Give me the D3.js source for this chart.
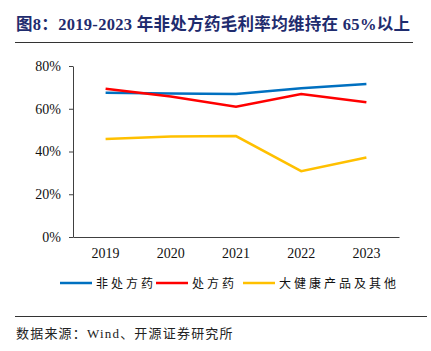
<!DOCTYPE html>
<html>
<head>
<meta charset="utf-8">
<script src="https://cdn.jsdelivr.net/npm/d3@7"></script>
<style>
  body { margin: 0; background: #fff; }
  svg { display: block; }
</style>
</head>
<body>
<div id="chart"></div>
<script>
const years = ['2019', '2020', '2021', '2022', '2023']
const otc = [67.5, 67.1, 66.9, 69.6, 71.6]
const rx = [69.4, 65.7, 61.0, 66.9, 63.0]
const health = [45.9, 47.0, 47.2, 30.8, 37.2]
const seriesNames = ['非处方药', '处方药', '大健康产品及其他']
const colors = ['#0070C0', '#FF0000', '#FFC000']
const yTicks = [0, 20, 40, 60, 80]

const width = 431
const height = 351
const margin = { left: 73, right: 32, top: 66, bottom: 114 }

const svg = d3.select('#chart').append('svg')
  .attr('width', width)
  .attr('height', height)

// title
svg.append('text')
  .attr('x', 16)
  .attr('y', 30)
  .attr('fill', '#1F2C6E')
  .attr('font-family', '"Liberation Serif", "Noto Sans CJK SC", serif')
  .attr('font-weight', 'bold')
  .attr('font-size', 16.5)
  .attr('letter-spacing', 0.3)
  .text('图8：2019-2023 年非处方药毛利率均维持在 65%以上')

svg.append('line')
  .attr('x1', 15).attr('x2', 413)
  .attr('y1', 42.5).attr('y2', 42.5)
  .attr('stroke', '#333').attr('stroke-width', 1)

const x = d3.scaleBand()
  .domain(years)
  .range([margin.left, width - margin.right])

const y = d3.scaleLinear()
  .domain([0, 80])
  .range([height - margin.bottom, margin.top])

const yAxis = svg.append('g')
  .attr('transform', 'translate(' + margin.left + ',0)')
  .call(d3.axisLeft(y).tickValues(yTicks).tickFormat(d => d + '%').tickSize(4).tickSizeOuter(0))
yAxis.select('.domain').attr('stroke', '#404040')
yAxis.selectAll('.tick line').attr('stroke', '#404040')
yAxis.selectAll('text')
  .attr('font-family', '"Liberation Serif", serif')
  .attr('font-size', 14)
  .attr('fill', '#111')
  .attr('dx', '-5')

const xAxis = svg.append('g')
  .attr('transform', 'translate(0,' + y(0) + ')')
  .call(d3.axisBottom(x).tickSize(0).tickPadding(11))
xAxis.select('.domain').attr('stroke', '#404040')
xAxis.selectAll('text')
  .attr('font-family', '"Liberation Serif", serif')
  .attr('font-size', 14)
  .attr('fill', '#111')

const line = d3.line()
  .x((d, i) => x(years[i]) + x.bandwidth() / 2)
  .y(d => y(d))

const allSeries = [otc, rx, health]
allSeries.forEach((s, i) => {
  svg.append('path')
    .datum(s)
    .attr('fill', 'none')
    .attr('stroke', colors[i])
    .attr('stroke-width', 2.5)
    .attr('d', line)
})

// legend
const legendX = [60, 156, 243]
const legend = svg.append('g').attr('transform', 'translate(0,283)')
seriesNames.forEach((name, i) => {
  legend.append('line')
    .attr('x1', legendX[i]).attr('x2', legendX[i] + 32)
    .attr('y1', 0).attr('y2', 0)
    .attr('stroke', colors[i])
    .attr('stroke-width', 2.5)
  legend.append('text')
    .attr('x', legendX[i] + 36)
    .attr('y', 4.5)
    .attr('font-family', '"Noto Sans CJK SC", sans-serif')
    .attr('font-size', 12)
    .attr('letter-spacing', 3)
    .attr('fill', '#111')
    .text(name)
})

svg.append('line')
  .attr('x1', 15).attr('x2', 427)
  .attr('y1', 316.5).attr('y2', 316.5)
  .attr('stroke', '#333').attr('stroke-width', 1)

svg.append('text')
  .attr('x', 16)
  .attr('y', 338)
  .attr('font-family', '"Liberation Serif", "Noto Sans CJK SC", serif')
  .attr('font-size', 13)
  .attr('letter-spacing', 1.2)
  .attr('fill', '#222')
  .text('数据来源：Wind、开源证券研究所')
</script>
</body>
</html>
